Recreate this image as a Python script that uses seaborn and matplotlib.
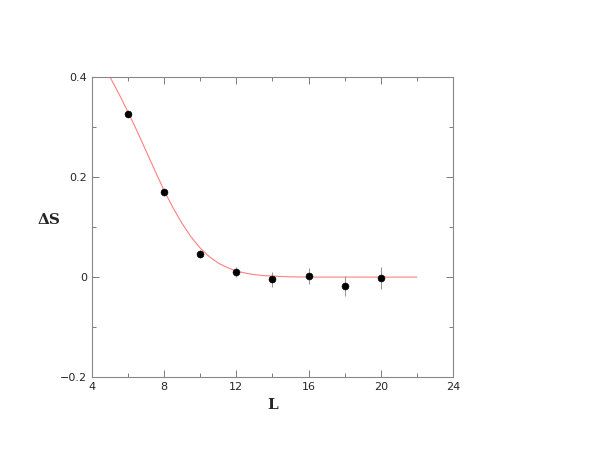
import matplotlib
matplotlib.use("Agg")
import matplotlib.pyplot as plt
import seaborn as sns
import numpy as np

sns.set_style("white")
plt.rcParams['font.family'] = ['DejaVu Sans']

L = [6, 8, 10, 12, 14, 16, 18, 20]
dS = [0.325, 0.170, 0.046, 0.010, -0.004, 0.003, -0.017, -0.002]
err = [0.006, 0.007, 0.008, 0.010, 0.015, 0.016, 0.020, 0.022]

fit_x = [5, 5.5, 6, 6.5, 7, 7.5, 8, 8.5, 9, 9.5, 10, 10.5, 11, 11.5, 12, 12.5, 13, 13.5, 14, 15, 16, 22]
fit_y = [0.40, 0.366, 0.330, 0.292, 0.252, 0.212, 0.173, 0.138, 0.107, 0.080, 0.058, 0.041, 0.028, 0.019, 0.012, 0.008, 0.005, 0.003, 0.002, 0.0005, 0.0, 0.0]

fig = plt.figure(figsize=(5.89, 4.55), dpi=100)
ax = fig.add_axes([0.156, 0.171, 0.613, 0.66])
sns.lineplot(x=fit_x, y=fit_y, ax=ax, color='#ff8080', lw=0.8)
ax.errorbar(L, dS, yerr=err, fmt='none', ecolor='#999999', elinewidth=0.8)
sns.scatterplot(x=L, y=dS, ax=ax, color='black', s=25, edgecolor='black', zorder=3)

ax.set_xlim(4, 24)
ax.set_ylim(-0.2, 0.4)
ax.set_xticks([4, 8, 12, 16, 20, 24])
ax.set_xticks([6, 10, 14, 18, 22], minor=True)
ax.set_yticks([-0.2, 0, 0.2, 0.4])
ax.set_yticklabels(['−0.2', '0', '0.2', '0.4'])
ax.set_yticks([-0.1, 0.1, 0.3], minor=True)
ax.tick_params(which='both', direction='in', top=True, right=True, bottom=True, left=True,
               labelsize=8, color='#666666', width=0.6)
ax.tick_params(which='major', length=5)
ax.tick_params(which='minor', length=3)
for s in ax.spines.values():
    s.set_color('#888888'); s.set_linewidth(0.8)
ax.set_xlabel('L', fontsize=11, fontweight='bold', family='DejaVu Serif')
ax.set_ylabel('ΔS', fontsize=11, fontweight='bold', family='DejaVu Serif', rotation=0, labelpad=8)
fig.savefig('out.png', dpi=100)
